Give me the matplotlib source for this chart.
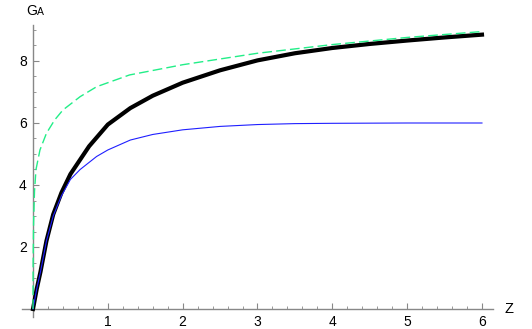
import matplotlib
matplotlib.use("Agg")
import matplotlib.pyplot as plt
from matplotlib.ticker import MultipleLocator, FixedLocator

plt.rcParams['font.family'] = ['Liberation Sans', 'DejaVu Sans']

# Data
z_black = [0, 0.05, 0.1, 0.18, 0.27, 0.38, 0.5, 0.75, 1.0, 1.3, 1.6, 2.0, 2.5, 3.0, 3.5, 4.0, 4.5, 5.0, 5.5, 6.0]
g_black = [0, 0.65, 1.2, 2.2, 3.05, 3.75, 4.35, 5.25, 5.95, 6.48, 6.88, 7.30, 7.70, 8.02, 8.25, 8.42, 8.55, 8.66, 8.76, 8.85]

z_blue = [0, 0.05, 0.1, 0.18, 0.27, 0.38, 0.5, 0.63, 0.85, 1.0, 1.3, 1.6, 2.0, 2.5, 3.0, 3.5, 4.0, 5.0, 6.0]
g_blue = [0, 0.65, 1.2, 2.2, 3.0, 3.65, 4.18, 4.5, 4.92, 5.13, 5.45, 5.63, 5.78, 5.89, 5.95, 5.98, 5.99, 6.0, 6.0]

z_green = [0, 0.002, 0.008, 0.02, 0.04, 0.093, 0.18, 0.29, 0.4, 0.63, 0.85, 1.29, 2.0, 3.0, 4.0, 5.0, 6.0]
g_green = [0, 1.5, 2.8, 3.8, 4.5, 5.13, 5.67, 6.1, 6.42, 6.85, 7.17, 7.55, 7.88, 8.25, 8.53, 8.76, 8.95]

x_ticks = [1, 2, 3, 4, 5, 6]
y_ticks = [2, 4, 6, 8]

W, H = 532, 329
fig = plt.figure(figsize=(W / 100, H / 100), dpi=100)
x0, xs = 33.0, 74.83
y0, ys = 309.0, 31.0
xmin, xmax = -0.15, 6.15
ymin, ymax = -0.25, 9.15
left = (x0 + xmin * xs) / W
right = (x0 + xmax * xs) / W
bottom = (H - (y0 - ymin * ys)) / H
top = (H - (y0 - ymax * ys)) / H
ax = fig.add_axes([left, bottom, right - left, top - bottom])
ax.set_xlim(xmin, xmax)
ax.set_ylim(ymin, ymax)

ax.plot(z_black, g_black, color='black', lw=3.0, solid_joinstyle='miter', zorder=3)
ax.plot(z_blue, g_blue, color='#1f1fff', lw=0.8, zorder=4)
ax.plot(z_green, g_green, color='#22ee88', lw=1.0, dashes=(7, 3), zorder=5)

for s in ['top', 'right']:
    ax.spines[s].set_visible(False)
ax.spines['left'].set_position(('data', 0))
ax.spines['bottom'].set_position(('data', 0))
for s in ['left', 'bottom']:
    ax.spines[s].set_color('#888888')
    ax.spines[s].set_linewidth(1.0)

ax.xaxis.set_major_locator(FixedLocator(x_ticks))
ax.yaxis.set_major_locator(FixedLocator(y_ticks))
ax.xaxis.set_minor_locator(MultipleLocator(0.2))
ax.yaxis.set_minor_locator(MultipleLocator(0.5))
ax.tick_params(which='major', direction='in', length=4, width=0.8, color='#888888',
               labelsize=10, labelcolor='black', pad=4.5)
ax.tick_params(which='minor', direction='in', length=2.5, width=0.6, color='#888888')
ax.set_xticklabels([str(v) for v in x_ticks])
ax.set_yticklabels([str(v) for v in y_ticks])

fig.text(26 / W, 1 - 15 / H, 'G', fontsize=10, ha='left', va='baseline')
fig.text(36.7 / W, 1 - 15 / H, 'A', fontsize=7.5, ha='left', va='baseline')
fig.text(509 / W, 1 - 309 / H, 'Z', fontsize=10.5, ha='center', va='center')

fig.savefig('out.png', dpi=100)
